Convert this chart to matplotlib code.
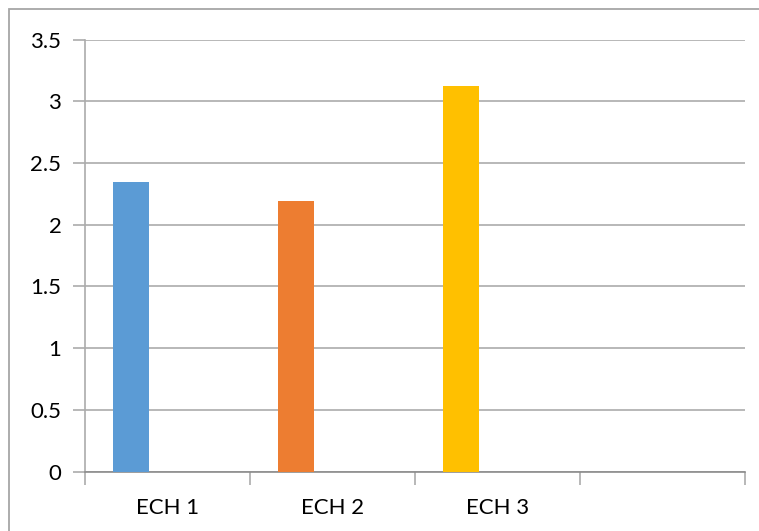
import matplotlib
matplotlib.use("Agg")
import matplotlib.pyplot as plt
from matplotlib.patches import Rectangle

# Data
categories = ["ECH 1", "ECH 2", "ECH 3", ""]
values = [2.35, 2.19, 3.12]
colors = ["#5B9BD5", "#ED7D31", "#FFC000"]
y_ticks = [0, 0.5, 1, 1.5, 2, 2.5, 3, 3.5]
y_labels = ["0", "0.5", "1", "1.5", "2", "2.5", "3", "3.5"]

W, H = 759, 531
dpi = 100
fig = plt.figure(figsize=(W / dpi, H / dpi), dpi=dpi)
plt.rcParams["font.family"] = ["Lato", "DejaVu Sans"]

# plot area in pixels
x0, x1 = 85, 745
y_top, y_bot = 39.5, 471.7
ax = fig.add_axes([x0 / W, 1 - y_bot / H, (x1 - x0) / W, (y_bot - y_top) / H])

grid_c = "#ABABAB"
axis_c = "#8C8C8C"
fs = 16

# clustered-bar layout: bars sit in the first slot of a 3-slot cluster (gap 150%)
bw = 1 / 4.5
offset = 1.25 * bw
for i, (v, c) in enumerate(zip(values, colors)):
    ax.bar(i + offset, v, width=bw, color=c, zorder=3)

ax.set_xlim(0, len(categories))
ax.set_ylim(0, 3.5)

ax.set_yticks(y_ticks)
ax.set_yticklabels(y_labels, fontsize=fs)
ax.yaxis.grid(True, color=grid_c, linewidth=1.2, zorder=0)
ax.tick_params(axis="y", length=9, width=1.2, color=grid_c, pad=8, colors="black")
ax.tick_params(axis="y", color=grid_c)

ax.set_xticks(range(len(categories) + 1))
ax.set_xticklabels([])
ax.set_xticks([i + 0.5 for i in range(len(categories))], minor=True)
ax.set_xticklabels(categories, minor=True, fontsize=fs)
ax.tick_params(axis="x", which="major", length=9, width=1.2, color=grid_c)
ax.tick_params(axis="x", which="minor", length=0, pad=19)

for s in ["top", "right"]:
    ax.spines[s].set_visible(False)
ax.spines["left"].set_color(grid_c)
ax.spines["left"].set_linewidth(1.2)
ax.spines["bottom"].set_color(axis_c)
ax.spines["bottom"].set_linewidth(1.2)
ax.set_axisbelow(True)

# chart frame
fig.patches.append(Rectangle((9 / W, -0.1), 1.2, 1 - 9 / H + 0.1,
                             transform=fig.transFigure, fill=False,
                             edgecolor="#A6A6A6", linewidth=1.3))

fig.savefig("out.png", dpi=dpi)
